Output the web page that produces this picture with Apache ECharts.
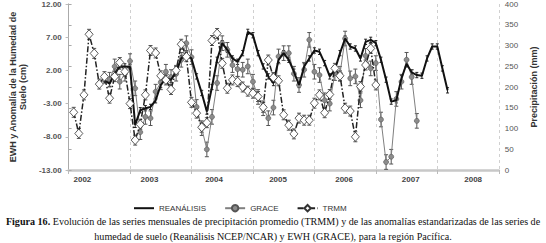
<!DOCTYPE html>
<html>
<head>
<meta charset="utf-8">
<script src="https://cdn.jsdelivr.net/npm/echarts@6/dist/echarts.min.js"></script>
<style>
  html, body { margin: 0; padding: 0; background: #fff; }
  #chart { width: 546px; height: 243px; }
</style>
</head>
<body>
<div id="chart"></div>
<script>
// month index: 1 = Jan 2002, 13 = Jan 2003 ...
const yearLabels = ['2002', '2003', '2004', '2005', '2006', '2007', '2008']
const yearLabelAt = [2.7, 15.8, 28.4, 40.9, 53.8, 66.8, 79.0]

const reanStart = 7
const reanalisis = [0.5, 0.0, 1.5, 2.6, 2.6, 2.5, -6.2, -4.0, -3.7, -3.5,
  -2.5, -0.2, 0.8, 0.6, 1.8, 3.8, 4.3, 3.8, 1.1, -1.4,
  -4.2, -0.5, 3.6, 6.1, 5.1, 3.8, 3.3, 4.6, 7.8, 7.3,
  4.6, 2.6, 1.1, 0.1, 3.6, 4.6, 3.6, 1.8, -0.2, 2.6,
  3.8, 5.0, 4.8, 3.1, 1.1, 2.1, 4.6, 6.8, 5.6, 5.3,
  3.8, 6.3, 6.6, 6.1, 3.6, 0.6, -2.7, -2.5, 0.8, 3.0,
  1.7, 1.3, 1.2, 3.8, 5.6, 5.6, 2.3, -1.0]

const graceStart = 8
const grace = [0.6, 2.6, 0.3, 1.5, 3.4, -0.7, -7.3, -5.0, -5.2, -1.2,
  0.2, 1.8, 1.0, 1.5, 3.6, 6.1, 4.0, -3.5, -6.7, -9.9,
  -5.0, 0.1, 6.1, 5.1, 2.8, 2.2, 2.1, 2.6, 0.3, -2.0,
  -3.7, -5.2, -3.6, 4.1, 4.6, 4.6, 1.5, -0.2, 2.1, 6.6,
  1.8, 1.3, -2.5, -3.0, 1.6, 1.5, 6.8, 0.8, 1.1, -2.5,
  4.2, 2.3, 3.1, -5.4, -11.8, -11.0, -2.3, 0.3, 3.6, 1.0,
  -5.6]

const trmmStart = 1
const trmm = [139, 88, 181, 327, 281, 207, 225, 173, 225, 259,
  237, 160, 72, 110, 181, 288, 282, 227, 217, 194,
  240, 303, 273, 163, 137, 103, 114, 312, 329, 257,
  197, 217, 213, 200, 190, 185, 177, 151, 265, 223,
  215, 133, 108, 87, 125, 120, 120, 161, 181, 138,
  182, 245, 227, 149, 142, 80, 201, 253, 293, 205]

// half-width of the error bars of each series
const reanErr = 0.4
const graceErr = 1.1
const trmmErr = 12

const toPairs = (start, arr) => arr.map((v, i) => [start + i, v])
const toBars = (start, arr, e) => arr.map((v, i) => [start + i, v - e, v + e])

const chart = echarts.init(document.getElementById('chart'), null, { renderer: 'svg' })

function errorBar(color, cap) {
  return function (params, api) {
    const x = api.value(0)
    const lo = api.coord([x, api.value(1)])
    const hi = api.coord([x, api.value(2)])
    const style = { stroke: color, lineWidth: 1 }
    return {
      type: 'group',
      children: [
        { type: 'line', shape: { x1: lo[0], y1: lo[1], x2: hi[0], y2: hi[1] }, style },
        { type: 'line', shape: { x1: lo[0] - cap, y1: lo[1], x2: lo[0] + cap, y2: lo[1] }, style },
        { type: 'line', shape: { x1: hi[0] - cap, y1: hi[1], x2: hi[0] + cap, y2: hi[1] }, style }
      ]
    }
  }
}

const font = 'Liberation Sans, Arial, sans-serif'
const serif = 'Liberation Serif, Times New Roman, serif'

const option = {
  animation: false,
  textStyle: { fontFamily: font },
  grid: { left: 47, right: 35, top: 4, bottom: 73 },
  title: [
    {
      text: '{b|Figura 16.} Evolución de las series mensuales de precipitación promedio (TRMM) y de las anomalías estandarizadas de las series de',
      left: 'center',
      top: 216,
      padding: 0,
      textStyle: {
        fontFamily: serif, fontSize: 10.1, fontWeight: 'normal', color: '#111',
        rich: { b: { fontFamily: serif, fontSize: 10.1, fontWeight: 'bold', color: '#111' } }
      }
    },
    {
      text: 'humedad de suelo (Reanálisis NCEP/NCAR) y EWH (GRACE), para la región Pacífica.',
      left: 'center',
      top: 231,
      padding: 0,
      textStyle: { fontFamily: serif, fontSize: 10.1, fontWeight: 'normal', color: '#111' }
    }
  ],
  legend: {
    data: [
      { name: 'REANÁLISIS', itemStyle: { opacity: 0 } },
      'GRACE',
      'TRMM'
    ],
    left: 128,
    top: 199,
    itemWidth: 20,
    itemHeight: 8,
    itemGap: 18,
    textStyle: { fontFamily: font, fontSize: 8, color: '#333' }
  },
  xAxis: [
    {
      type: 'value', min: 0, max: 84, interval: 12,
      axisLine: { onZero: false, lineStyle: { color: '#c8c8c8', width: 2.5 } },
      axisTick: { show: true, length: 4, lineStyle: { color: '#bbb' } },
      axisLabel: { show: false },
      splitLine: { show: true, lineStyle: { color: '#c4c4c4', type: [3, 3], width: 0.8 } }
    },
    {
      type: 'value', min: 0, max: 84, position: 'bottom',
      axisLine: { show: false, onZero: false }, axisTick: { show: false }, splitLine: { show: false },
      axisLabel: {
        customValues: yearLabelAt,
        formatter: v => yearLabels[yearLabelAt.indexOf(v)] || '',
        fontSize: 8, fontWeight: 'bold', color: '#444', margin: 5
      }
    }
  ],
  yAxis: [
    {
      type: 'value', min: -13, max: 12, interval: 5,
      name: 'EWH y Anomalía de la Humedad de\nSuelo (cm)',
      nameLocation: 'middle', nameRotate: 90, nameGap: 33,
      nameTextStyle: { fontSize: 9, fontWeight: 'bold', color: '#333', lineHeight: 10 },
      axisLine: { show: true, lineStyle: { color: '#c8c8c8' } },
      axisTick: { show: true, length: 3, lineStyle: { color: '#bbb' } },
      axisLabel: { formatter: v => v.toFixed(2), fontSize: 8, fontWeight: 'bold', color: '#555', margin: 7 },
      splitLine: { show: false }
    },
    {
      type: 'value', min: 0, max: 400, interval: 50, position: 'right',
      name: 'Precipitación (mm)',
      nameLocation: 'middle', nameRotate: 90, nameGap: 29,
      nameTextStyle: { fontSize: 9, fontWeight: 'bold', color: '#333' },
      axisLine: { show: true, lineStyle: { color: '#aaa' } },
      axisTick: { show: true, length: 3, lineStyle: { color: '#aaa' } },
      axisLabel: { fontSize: 8, color: '#555', margin: 6 },
      splitLine: { show: false }
    }
  ],
  series: [
    {
      name: 'reanErr', type: 'custom', xAxisIndex: 0, yAxisIndex: 0, z: 2,
      renderItem: errorBar('#222', 1.5),
      data: toBars(reanStart, reanalisis, reanErr)
    },
    {
      name: 'graceErr', type: 'custom', xAxisIndex: 0, yAxisIndex: 0, z: 2,
      renderItem: errorBar('#555', 2),
      data: toBars(graceStart, grace, graceErr)
    },
    {
      name: 'trmmErr', type: 'custom', xAxisIndex: 0, yAxisIndex: 1, z: 2,
      renderItem: errorBar('#555', 2),
      data: toBars(trmmStart, trmm, trmmErr)
    },
    {
      name: 'REANÁLISIS', type: 'line', xAxisIndex: 0, yAxisIndex: 0, z: 4,
      data: toPairs(reanStart, reanalisis),
      symbol: 'none',
      lineStyle: { color: '#111', width: 2 },
      itemStyle: { color: '#111' }
    },
    {
      name: 'GRACE', type: 'line', xAxisIndex: 0, yAxisIndex: 0, z: 3,
      data: toPairs(graceStart, grace),
      symbol: 'circle', symbolSize: 5,
      lineStyle: { color: '#808080', width: 1 },
      itemStyle: { color: '#8c8c8c', borderColor: '#555', borderWidth: 0.6 }
    },
    {
      name: 'TRMM', type: 'line', xAxisIndex: 0, yAxisIndex: 1, z: 5,
      data: toPairs(trmmStart, trmm),
      symbol: 'diamond', symbolSize: [8, 9],
      lineStyle: { color: '#222', width: 1.5, type: [6, 2, 1.5, 2] },
      itemStyle: { color: '#fff', borderColor: '#333', borderWidth: 0.8 }
    }
  ]
}

chart.setOption(option)
</script>
</body>
</html>
